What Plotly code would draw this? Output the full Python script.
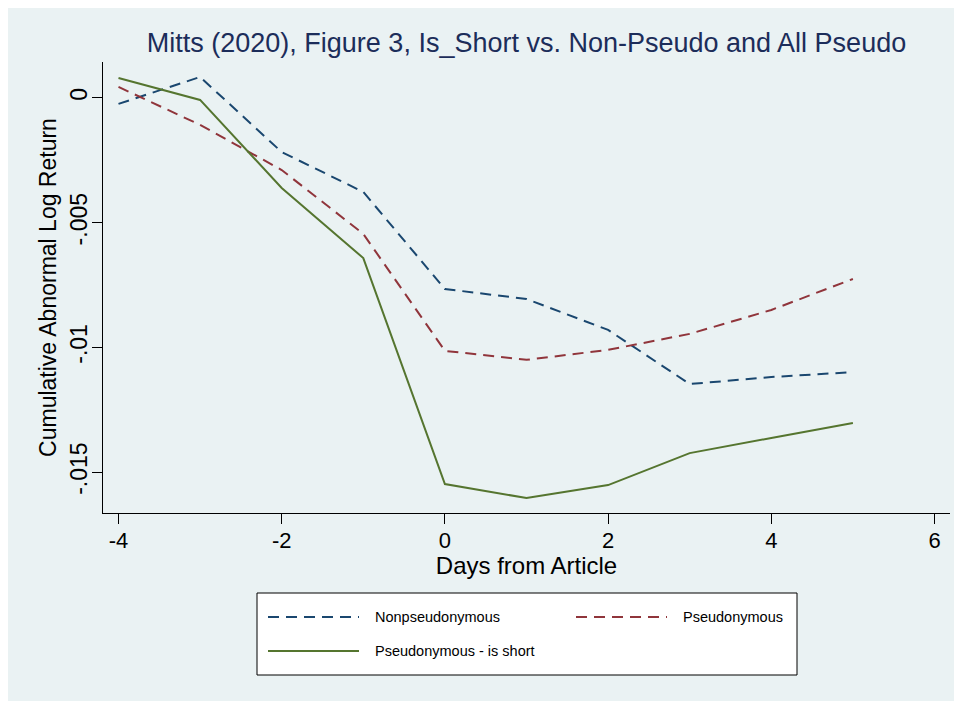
import plotly.graph_objects as go

# days relative to the article
days = [-4, -3, -2, -1, 0, 1, 2, 3, 4, 5]

# cumulative abnormal log returns
nonpseudo = [-0.00024, 0.00084, -0.00217, -0.00377, -0.00766, -0.00806, -0.0093, -0.01147, -0.01119, -0.01099]
pseudo = [0.00044, -0.00108, -0.00289, -0.00545, -0.01014, -0.0105, -0.0101, -0.00946, -0.0085, -0.00726]
pseudo_short = [0.0008, -0.00008, -0.00361, -0.00642, -0.01548, -0.01604, -0.01552, -0.01424, -0.01363, -0.01303]

x_ticks = [-4, -2, 0, 2, 4, 6]
x_tick_text = ["-4", "-2", "0", "2", "4", "6"]
y_ticks = [0, -0.005, -0.01, -0.015]
y_tick_text = ["0", "-.005", "-.01", "-.015"]

names = ["Nonpseudonymous", "Pseudonymous", "Pseudonymous - is short"]
colors = ["#1A476F", "#90353B", "#55752F"]
dashes = ["11px,7px", "11px,7px", "solid"]

FONT = "Liberation Sans, Arial, sans-serif"
BG = "#EAF2F3"

# the page body has an 8px margin, so the figure is laid out in
# screen coordinates minus that offset
OFF = 8
W, H = 962 - OFF, 704 - OFF
L, T = 103 - OFF, 62 - OFF
R = W - (950 - OFF)
B = H - (513 - OFF)

fig = go.Figure()
for name, ys, col, dash in zip(names, [nonpseudo, pseudo, pseudo_short], colors, dashes):
    fig.add_trace(go.Scatter(
        x=days, y=ys, mode="lines", name=name,
        line=dict(color=col, width=2, dash=dash),
        showlegend=False,
    ))

# reference lines at zero
fig.add_hline(y=0, line_color="black", line_width=1.2, layer="below")
fig.add_vline(x=0, line_color="black", line_width=1.2, layer="below")

# screen pixel -> paper helpers for the decorations outside the plot area
pw, ph = W - L - R, H - T - B
def px(x):
    return (x - OFF - L) / pw
def py(y):
    return (H - B - (y - OFF)) / ph

shapes = [
    # stata style light region behind everything
    dict(type="rect", xref="paper", yref="paper", layer="below",
         x0=px(7), x1=px(958), y0=py(701), y1=py(5),
         fillcolor=BG, line_width=0),
    # legend box
    dict(type="rect", xref="paper", yref="paper",
         x0=px(257), x1=px(797), y0=py(675), y1=py(593),
         fillcolor="white", line=dict(color="black", width=1)),
]
annotations = []
legend_pos = [(268, 617), (576, 617), (268, 651)]
for (lx, ly), name, col, dash in zip(legend_pos, names, colors, dashes):
    shapes.append(dict(type="line", xref="paper", yref="paper",
                       x0=px(lx), x1=px(lx + 91), y0=py(ly), y1=py(ly),
                       line=dict(color=col, width=2, dash=dash)))
    annotations.append(dict(xref="paper", yref="paper", x=px(lx + 105), y=py(ly),
                            text=name, showarrow=False, xanchor="left", yanchor="middle",
                            font=dict(family=FONT, size=14.5, color="black")))

fig.update_layout(
    width=W, height=H,
    margin=dict(l=L, r=R, t=T, b=B),
    paper_bgcolor="white",
    plot_bgcolor="white",
    shapes=fig.layout.shapes + tuple(shapes),
    annotations=annotations,
    title=dict(
        text="Mitts (2020), Figure 3, Is_Short vs. Non-Pseudo and All Pseudo",
        x=0.5, xref="paper", xanchor="center",
        y=1 - (43 - OFF) / H, yref="container", yanchor="middle",
        font=dict(family=FONT, size=27, color="#1C2D5A"),
    ),
    font=dict(family=FONT, color="black"),
)

fig.update_xaxes(
    range=[-4.19, 6.19],
    tickvals=x_ticks, ticktext=x_tick_text,
    ticks="outside", ticklen=10, tickcolor="black", tickwidth=1,
    tickfont=dict(size=22), ticklabelstandoff=-3,
    showline=True, linecolor="black", linewidth=1.2,
    showgrid=True, gridcolor=BG, gridwidth=2,
    zeroline=False,
    title=dict(text="Days from Article", font=dict(size=24), standoff=2),
)
fig.update_yaxes(
    range=[-0.01664, 0.00144],
    tickvals=y_ticks, ticktext=y_tick_text, tickangle=-90,
    ticks="outside", ticklen=10, tickcolor="black", tickwidth=1,
    tickfont=dict(size=23), ticklabelstandoff=-4,
    showline=True, linecolor="black", linewidth=1.2,
    showgrid=True, gridcolor=BG, gridwidth=2,
    zeroline=False,
    title=dict(text="Cumulative Abnormal Log Return", font=dict(size=23), standoff=2),
)

fig.write_html("out.html")
